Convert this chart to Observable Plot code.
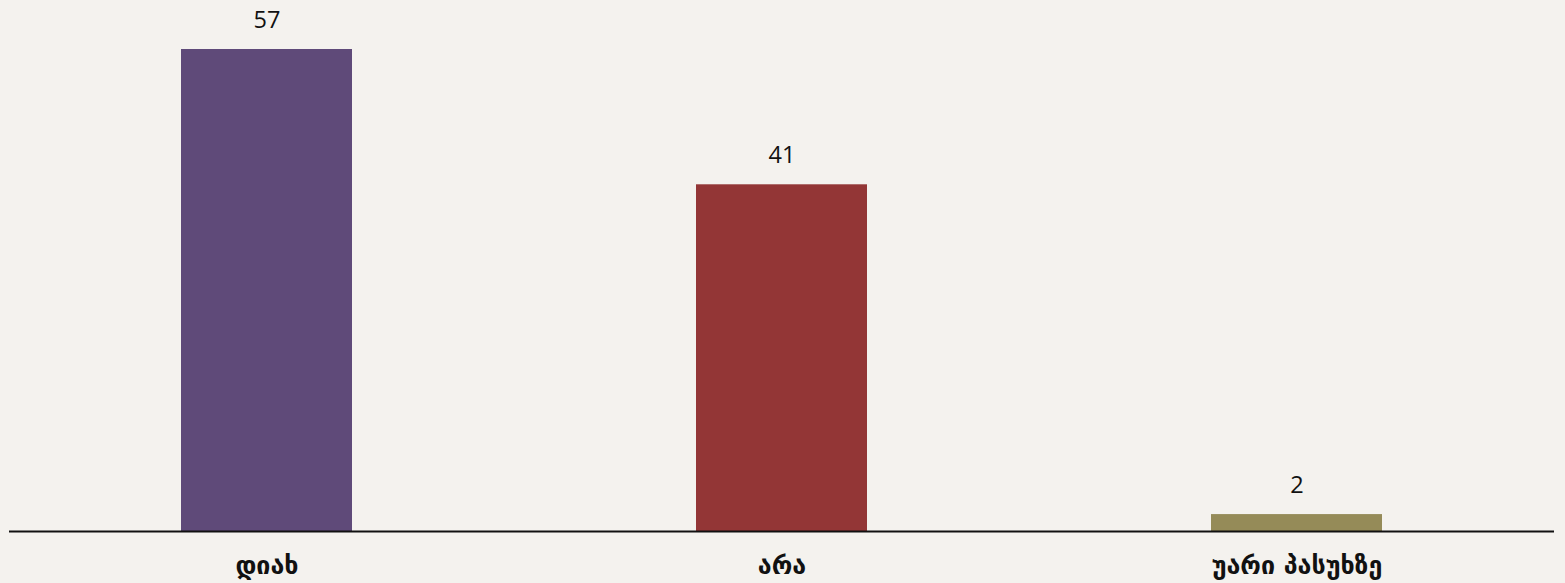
<!DOCTYPE html>
<html><head><meta charset="utf-8">
<script src="https://cdn.jsdelivr.net/npm/d3@7"></script>
<script src="https://cdn.jsdelivr.net/npm/@observablehq/plot@0.6"></script>
<style>
html,body{margin:0;padding:0;background:#F4F2EE;}
#chart{width:1565px;height:583px;}
</style>
</head><body><div id="chart"></div>
<script>
const categories = ["დიახ", "არა", "უარი პასუხზე"];
const values = [57, 41, 2];
const colors = ["#5F4A79", "#933636", "#958B58"];

const data = categories.map((c, i) => ({category: c, value: values[i], color: colors[i]}));

const chart = Plot.plot({
  width: 1565,
  height: 583,
  marginLeft: 9,
  marginRight: 11,
  marginTop: 49,
  marginBottom: 52,
  style: {background: "#F4F2EE", fontFamily: "'Open Sans', sans-serif"},
  x: {domain: categories, paddingInner: 0.668, paddingOuter: 0.334, label: null, axis: null},
  y: {domain: [0, 57], axis: null},
  marks: [
    Plot.barY(data, {x: "category", y: "value", fill: "color"}),
    Plot.text(data, {x: "category", y: "value", text: d => String(d.value), dy: -29, fontSize: 23.5, fill: "#111", fontFamily: "'Open Sans', sans-serif"}),
    Plot.ruleY([0], {stroke: "#111", strokeWidth: 2}),
    Plot.axisX({tickSize: 0, tickPadding: 25, fontSize: 25, fontWeight: "bold", fontFamily: "'DejaVu Sans', sans-serif", fill: "#111", label: null})
  ]
});
document.getElementById("chart").appendChild(chart);
</script></body></html>
